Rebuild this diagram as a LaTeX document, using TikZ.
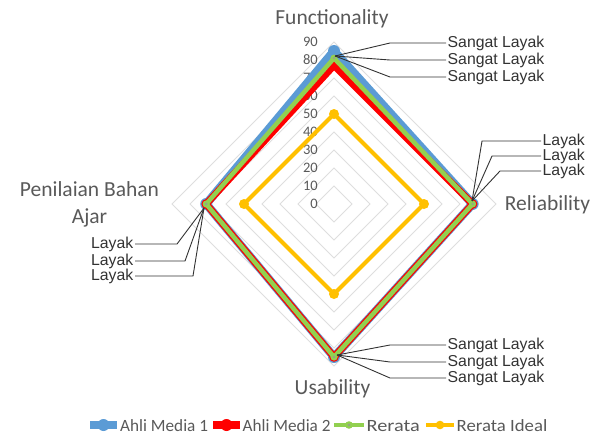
\documentclass[tikz,border=0pt]{standalone}
\usepackage{fontspec}
\usepackage{graphicx}
\setmainfont{Carlito}
\newfontfamily\arialf{Liberation Sans}
\usetikzlibrary{calc}
\definecolor{txt}{RGB}{89,89,89}
\definecolor{dl}{RGB}{50,50,50}
\definecolor{gridc}{RGB}{222,222,222}
\definecolor{sblue}{RGB}{91,155,213}
\definecolor{sred}{RGB}{255,0,0}
\definecolor{sgreen}{RGB}{146,208,80}
\definecolor{sorange}{RGB}{255,192,0}
\definecolor{gdot}{RGB}{150,160,140}
\begin{document}
\begin{tikzpicture}[x=1pt,y=-1pt,
  gridline/.style={draw=gridc,line width=0.8pt},
  blueS/.style={draw=sblue,line width=8.5pt,line join=round},
  redS/.style={draw=sred,line width=7pt,line join=round},
  greenS/.style={draw=sgreen,line width=4.5pt,line join=round},
  orangeS/.style={draw=sorange,line width=4pt,line join=round},
  axl/.style={font=\fontsize{21.5}{26}\selectfont,text=txt,inner sep=0pt},
  tick/.style={font=\fontsize{14.5}{17}\selectfont,text=txt,inner sep=0pt},
  leg/.style={font=\fontsize{17.2}{20}\selectfont,text=txt,inner sep=0pt},
  dlab/.style={font=\arialf\fontsize{15.8}{18}\selectfont,text=dl,inner sep=1.5pt},
  lead/.style={draw=dl,line width=0.9pt}]
\useasboundingbox (0,0) rectangle (599,436);
% grid
\foreach \i in {1,...,9}{
  \draw[gridline] (334,{204-18*\i}) -- ({334+18*\i},204) -- (334,{204+18*\i}) -- ({334-18*\i},204) -- cycle;
}
% tick labels
\foreach \v [count=\i from 0] in {0,10,...,90}
  \node[tick,anchor=east] (t\v) at (318,{204-18*\i}) {\v};
% series points
\coordinate (b1) at (334,51);   \coordinate (b2) at (472.6,204);
\coordinate (b3) at (334,357);  \coordinate (b4) at (206.2,204);
\coordinate (r1) at (334,65.4); \coordinate (r2) at (472.6,204);
\coordinate (r3) at (334,357);  \coordinate (r4) at (206.2,204);
\coordinate (g1) at (334,58.2); \coordinate (g2) at (472.6,204);
\coordinate (g3) at (334,357);  \coordinate (g4) at (206.2,204);
\coordinate (o1) at (334,114);  \coordinate (o2) at (424,204);
\coordinate (o3) at (334,294);  \coordinate (o4) at (244,204);
% series
\draw[blueS] (b1) -- (b2) -- (b3) -- (b4) -- cycle;
\foreach \p in {b1,b2,b3,b4} \fill[sblue] (\p) circle (6pt);
\draw[redS] (r1) -- (r2) -- (r3) -- (r4) -- cycle;
\foreach \p in {r1,r2,r3,r4} \fill[sred] (\p) circle (4.8pt);
\draw[greenS] (g1) -- (g2) -- (g3) -- (g4) -- cycle;
\foreach \p in {g1,g2,g3,g4} {\fill[sgreen] (\p) circle (3.6pt); \fill[gdot] (\p) circle (1.3pt);}
\draw[orangeS] (o1) -- (o2) -- (o3) -- (o4) -- cycle;
\foreach \p in {o1,o2,o3,o4} \fill[sorange] (\p) circle (5pt);
% axis labels
\node[axl,anchor=base] (fun) at (332,25) {Functionality};
\node[axl,anchor=base] (rel) at (547.5,210) {Reliability};
\node[axl,anchor=base] (pen1) at (89.5,196) {Penilaian Bahan};
\node[axl,anchor=base] (pen2) at (89.5,223) {Ajar};
\node[axl,anchor=base] (usa) at (332.5,394) {Usability};
% data labels: Functionality
\coordinate (fL) at (335,56);
\node[dlab,anchor=west] (lF1) at (446,43) {Sangat Layak};
\node[dlab,anchor=west] (lF2) at (446,60) {Sangat Layak};
\node[dlab,anchor=west] (lF3) at (446,77) {Sangat Layak};
\foreach \n in {lF1,lF2,lF3}
  \draw[lead] (fL) -- ([xshift=-56pt]\n.west) -- (\n.west);
% Reliability
\coordinate (rL) at (472,201);
\node[dlab,anchor=west] (lR1) at (541,141) {Layak};
\node[dlab,anchor=west] (lR2) at (541,156) {Layak};
\node[dlab,anchor=west] (lR3) at (541,171) {Layak};
\draw[lead] (rL) -- ([xshift=-59pt]lR1.west) -- (lR1.west);
\draw[lead] (rL) -- ([xshift=-49pt]lR2.west) -- (lR2.west);
\draw[lead] (rL) -- ([xshift=-41pt]lR3.west) -- (lR3.west);
% Penilaian Bahan Ajar
\coordinate (pL) at (204,208);
\node[dlab,anchor=east] (lP1) at (135,244) {Layak};
\node[dlab,anchor=east] (lP2) at (135,261) {Layak};
\node[dlab,anchor=east] (lP3) at (135,276) {Layak};
\draw[lead] (pL) -- ([xshift=42pt]lP1.east) -- (lP1.east);
\draw[lead] (pL) -- ([xshift=50pt]lP2.east) -- (lP2.east);
\draw[lead] (pL) -- ([xshift=58pt]lP3.east) -- (lP3.east);
% Usability
\coordinate (uL) at (337,355);
\node[dlab,anchor=west] (lU1) at (446,345) {Sangat Layak};
\node[dlab,anchor=west] (lU2) at (446,362) {Sangat Layak};
\node[dlab,anchor=west] (lU3) at (446,378) {Sangat Layak};
\foreach \n in {lU1,lU2,lU3}
  \draw[lead] (uL) -- ([xshift=-56pt]\n.west) -- (\n.west);
% legend
\coordinate (kb1) at (90,425);  \coordinate (kb2) at (117,425);
\draw[draw=sblue,line width=8pt] (kb1) -- (kb2);
\fill[sblue] ($(kb1)!0.5!(kb2)$) circle (6pt);
\node[leg,anchor=base west] (tb) at (120,431) {Ahli Media 1};
\coordinate (kr1) at (213,425); \coordinate (kr2) at (240,425);
\draw[draw=sred,line width=8pt] (kr1) -- (kr2);
\fill[sred] ($(kr1)!0.5!(kr2)$) circle (6pt);
\node[leg,anchor=base west] (tr) at (242.5,431) {Ahli Media 2};
\coordinate (kg1) at (334,425); \coordinate (kg2) at (364,425);
\draw[draw=sgreen,line width=4pt] (kg1) -- (kg2);
\fill[sgreen] ($(kg1)!0.5!(kg2)$) circle (3.8pt);
\fill[gdot] ($(kg1)!0.5!(kg2)$) circle (1.4pt);
\node[leg,anchor=base west] (tg) at (366.5,431) {\scalebox{1.18}[1]{Rerata}};
\coordinate (ko1) at (426,425); \coordinate (ko2) at (454,425);
\draw[draw=sorange,line width=4pt] (ko1) -- (ko2);
\fill[sorange] ($(ko1)!0.5!(ko2)$) circle (4.3pt);
\node[leg,anchor=base west] (to) at (456.5,431) {\scalebox{1.09}[1]{Rerata Ideal}};
\end{tikzpicture}
\end{document}
